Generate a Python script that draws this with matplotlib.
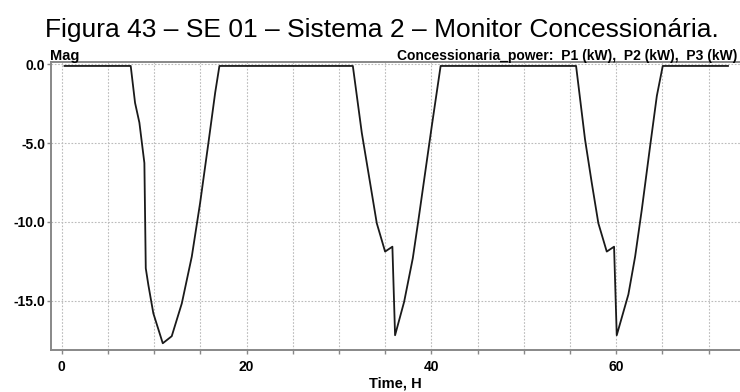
import matplotlib
matplotlib.use("Agg")
import matplotlib.pyplot as plt
from matplotlib.ticker import MultipleLocator, FixedLocator
from matplotlib import font_manager

names = {f.name for f in font_manager.fontManager.ttflist}
narrow = "Liberation Sans Narrow" if "Liberation Sans Narrow" in names else "Liberation Sans"

# Time (hours) and power (kW)
time_h = [0.3, 7.46, 7.93, 8.4, 8.94, 9.09, 9.37, 9.91, 10.93, 11.9, 12.99, 14.07,
          14.97, 15.87, 16.6, 17.06,
          31.5, 32.47, 33.37, 34.09, 34.99, 35.78, 36.07, 37.05, 37.99, 38.6, 39.32,
          40.04, 41.0,
          55.66, 56.63, 57.36, 58.07, 58.98, 59.77, 60.06, 61.32, 62.05, 62.77, 63.67,
          64.4, 65.04, 72.1]
power_kw = [-0.1, -0.1, -2.44, -3.7, -6.26, -12.94, -14.0, -15.8, -17.7, -17.25, -15.17, -12.2,
            -8.8, -4.98, -1.8, -0.1,
            -0.1, -4.35, -7.53, -10.08, -11.88, -11.57, -17.19, -15.07, -12.3, -9.87, -6.9,
            -3.93, -0.1,
            -0.1, -4.77, -7.53, -10.08, -11.88, -11.57, -17.19, -14.6, -12.2, -9.23, -5.2,
            -2.0, -0.1, -0.1]

x_major = [0, 20, 40, 60]
y_ticks = [0.0, -5.0, -10.0, -15.0]
y_labels = ["0.0", "-5.0", "-10.0", "-15.0"]

title = "Figura 43 – SE 01 – Sistema 2 – Monitor Concessionária."
header_left = "Mag"
header_right = "Concessionaria_power:  P1 (kW),  P2 (kW),  P3 (kW)"
xlabel = "Time, H"

fig = plt.figure(figsize=(7.4, 3.92), dpi=100)
ax = fig.add_axes([0.0685, 0.107, 0.9315, 0.736])

ax.plot(time_h, power_kw, color="#1a1a1a", lw=1.3)

ax.set_xlim(-1.2, 73.4)
ax.set_ylim(-18.13, 0.18)

ax.xaxis.set_major_locator(FixedLocator(x_major))
ax.xaxis.set_minor_locator(MultipleLocator(5))
ax.set_yticks(y_ticks)
ax.set_yticklabels(y_labels)

ax.grid(True, which="both", axis="x", color="#bbbbbb", ls=(0, (1.5, 1.5)), lw=0.8)
ax.grid(True, which="major", axis="y", color="#bbbbbb", ls=(0, (1.5, 1.5)), lw=0.8)

for s in ["left", "bottom", "top"]:
    ax.spines[s].set_color("#888888")
    ax.spines[s].set_linewidth(1.4)
ax.spines["right"].set_visible(False)

ax.tick_params(axis="both", which="both", direction="out", color="#888888",
               length=3, width=1)
for lab in ax.get_xticklabels() + ax.get_yticklabels():
    lab.set_fontfamily(narrow)
    lab.set_fontweight("bold")
    lab.set_fontsize(10)
ax.tick_params(axis="x", pad=4)
ax.tick_params(axis="y", pad=1)

fig.text(0.0608, 0.905, title, ha="left", va="baseline", fontsize=19,
         family="Liberation Sans")
fig.text(0.068, 0.847, header_left, ha="left", va="baseline", fontsize=10.5,
         fontweight="bold", family=narrow)
fig.text(0.997, 0.847, header_right, ha="right", va="baseline", fontsize=10,
         fontweight="bold", family=narrow)
fig.text(0.534, 0.022, xlabel, ha="center", va="center", fontsize=10.5,
         fontweight="bold", family=narrow)

fig.savefig("out.png", dpi=100)
